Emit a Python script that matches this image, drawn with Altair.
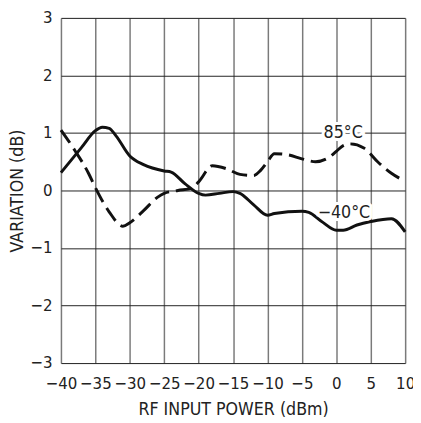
import altair as alt
import pandas as pd

FONT = "DejaVu Sans Condensed"

# -40°C (solid)
cold_x = [-40, -37, -35, -34, -33, -32, -30, -28, -25, -24, -22, -20, -19, -17, -15, -14, -12, -10, -9, -5, -4, -2, 0, 1, 3, 5, 8, 10]
cold_y = [0.31, 0.75, 1.04, 1.1, 1.08, 0.95, 0.6, 0.45, 0.34, 0.32, 0.12, -0.05, -0.08, -0.05, -0.02, -0.05, -0.25, -0.43, -0.4, -0.36, -0.38, -0.55, -0.69, -0.69, -0.6, -0.54, -0.49, -0.72]

# 85°C (dashed)
hot_x = [-40, -38, -36, -35, -33, -31, -30, -28, -26, -25, -23, -21, -20, -18, -16, -14, -12, -11, -10, -9, -7, -5, -3, -1, 0, 1, 2, 4, 6, 8, 10]
hot_y = [1.05, 0.7, 0.3, 0.05, -0.37, -0.62, -0.56, -0.35, -0.12, -0.05, 0.0, 0.04, 0.15, 0.43, 0.38, 0.28, 0.26, 0.35, 0.5, 0.64, 0.62, 0.55, 0.5, 0.58, 0.68, 0.78, 0.81, 0.74, 0.5, 0.3, 0.16]

x_ticks = [-40, -35, -30, -25, -20, -15, -10, -5, 0, 5, 10]
y_ticks = [-3, -2, -1, 0, 1, 2, 3]

label_text = ["85°C", "−40°C"]
label_x = [1.0, 1.1]
label_y = [1.0, -0.39]

cold = pd.DataFrame({"x": cold_x, "y": cold_y})
hot = pd.DataFrame({"x": hot_x, "y": hot_y})
labels = pd.DataFrame({"t": label_text, "x": label_x, "y": label_y})

xs = alt.Scale(domain=[-40, 10], nice=False, zero=False)
ys = alt.Scale(domain=[-3, 3], nice=False, zero=False)

xax = alt.Axis(values=x_ticks, format="d", grid=True, gridColor="#7a7a7a", gridWidth=1.5,
               gridOpacity=1, ticks=False, domain=False, labelFont=FONT, labelFontSize=17,
               labelColor="#222", labelPadding=13, labelOverlap=False, title="RF INPUT POWER (dBm)",
               titleFont=FONT, titleFontSize=18, titleFontWeight="normal", titleColor="#222",
               titleY=47, titleBaseline="middle", labelFlush=False)
yax = alt.Axis(values=y_ticks, format="d", grid=True, gridColor="#222", gridWidth=1,
               gridOpacity=1, ticks=False, domain=False, labelFont=FONT, labelFontSize=17,
               labelColor="#222", labelPadding=9, labelOverlap=False, title="VARIATION (dB)",
               titleFont=FONT, titleFontSize=18, titleFontWeight="normal", titleColor="#222",
               titleX=-44, titleY=176, titleBaseline="middle", titleAlign="center", labelFlush=False)

X = alt.X("x:Q", scale=xs, axis=xax)
Y = alt.Y("y:Q", scale=ys, axis=yax)

base_cold = alt.Chart(cold).mark_line(color="#111", strokeWidth=3, interpolate="monotone").encode(x=X, y=Y)
base_hot = alt.Chart(hot).mark_line(color="#111", strokeWidth=3, strokeDash=[16, 7],
                                    interpolate="monotone").encode(x=X, y=Y)

halo = alt.Chart(labels).mark_text(font=FONT, fontSize=18, color="white", stroke="white",
                                   strokeWidth=6).encode(x=X, y=Y, text="t:N")
txt = alt.Chart(labels).mark_text(font=FONT, fontSize=18, color="#222").encode(x=X, y=Y, text="t:N")

chart = alt.layer(base_cold, base_hot, halo, txt).properties(
    width=351, height=352,
    autosize=alt.AutoSizeParams(type="none"),
    padding={"left": 54, "top": 6, "right": 8, "bottom": 57},
).configure_view(stroke="#222", strokeWidth=2).configure(background="white")

chart.save("out.html", embed_options={"renderer": "svg", "actions": False})
